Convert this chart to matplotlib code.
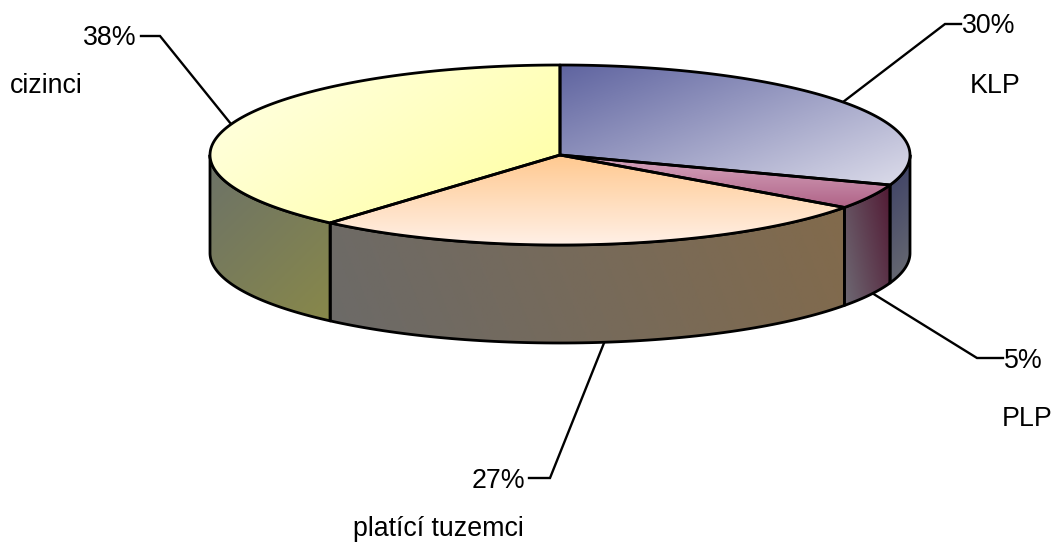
import numpy as np
import matplotlib
matplotlib.use("Agg")
import matplotlib.pyplot as plt
from matplotlib.colors import LinearSegmentedColormap
from matplotlib.patches import Polygon

plt.rcParams['font.family'] = ['Liberation Sans', 'DejaVu Sans']

categories = ["KLP", "PLP", "platící tuzemci", "cizinci"]
shares = [30.4, 4.5, 26.5, 38.6]
pct_labels = ["30%", "5%", "27%", "38%"]

CX, CY, RX, RY, DEPTH = 560, 155, 350, 90, 98

top_colors = [("#5f64a0", "#dcdcea", (0.4, 1)), ("#b06488", "#d8a8c0", (0, -1)),
              ("#ffc990", "#fff0e6", (0, 1)), ("#ffffa0", "#ffffe6", (-0.7, -1))]
side_colors = [[("#3a3e66", "#6a6c72", (1, 1))], [("#6e6a74", "#521a34", (1, -0.2))],
               [("#6c6a68", "#826a4c", (1, -0.4))], [("#6c7268", "#88884a", (1, 1))]]
label_pos = [(995, 86), (1027, 419), (438, 529), (46, 86)]
pct_pos = [(989, 26), (1023, 361), (498, 481), (110, 38)]
leaders = [[(843, 102), (945, 24), (961, 24)], [(872, 293), (977, 358), (1003, 358)],
           [(604, 343), (550, 478), (529, 478)], [(231, 124), (160, 36), (141, 36)]]

fig = plt.figure(figsize=(10.53, 5.42), dpi=100)
ax = fig.add_axes([0, 0, 1, 1])
ax.set_xlim(0, 1053)
ax.set_ylim(542, 0)
ax.axis("off")


def pt(theta):
    return CX + RX * np.sin(theta), CY - RY * np.cos(theta)


def grad_poly(verts, c0, c1, direction, z):
    verts = np.asarray(verts)
    x0, x1 = verts[:, 0].min(), verts[:, 0].max()
    y0, y1 = verts[:, 1].min(), verts[:, 1].max()
    X, Y = np.meshgrid(np.linspace(0, 1, 160), np.linspace(0, 1, 160))
    dx, dy = direction
    G = X * dx * (x1 - x0) + Y * dy * (y1 - y0)
    G = (G - G.min()) / (G.max() - G.min())
    cmap = LinearSegmentedColormap.from_list("g", [c0, c1])
    im = ax.imshow(G, cmap=cmap, extent=(x0, x1, y1, y0), aspect="auto",
                   zorder=z, interpolation="bilinear")
    poly = Polygon(verts, closed=True, transform=ax.transData, fc="none", ec="none")
    ax.add_patch(poly)
    im.set_clip_path(poly)
    ax.add_patch(Polygon(verts, closed=True, fc="none", ec="black", lw=2.0,
                         joinstyle="round", zorder=z + 0.5))


edges = 2 * np.pi * np.concatenate([[0], np.cumsum(shares)]) / np.sum(shares)

# Visible outer walls: front half of the rim only
for i in range(len(shares)):
    a = max(edges[i], np.pi / 2)
    b = min(edges[i + 1], 3 * np.pi / 2)
    if b <= a:
        continue
    t = np.linspace(a, b, 80)
    xs, ys = pt(t)
    verts = np.r_[np.c_[xs, ys], np.c_[xs[::-1], ys[::-1] + DEPTH]]
    c0, c1, d = side_colors[i][0]
    grad_poly(verts, c0, c1, d, 2)

# Top faces
for i in range(len(shares)):
    t = np.linspace(edges[i], edges[i + 1], 120)
    xs, ys = pt(t)
    verts = np.r_[[[CX, CY]], np.c_[xs, ys]]
    c0, c1, d = top_colors[i]
    grad_poly(verts, c0, c1, d, 3)

# Leaders and labels
for i, cat in enumerate(categories):
    lx, ly = zip(*leaders[i])
    ax.plot(lx, ly, color="black", lw=1.7, zorder=1, solid_joinstyle="miter")
    ax.text(*pct_pos[i], pct_labels[i], ha="center", va="center", fontsize=19.3, color="black")
    ax.text(*label_pos[i], cat, ha="center", va="center", fontsize=19.3, color="black")

fig.savefig("out.png", dpi=100)
